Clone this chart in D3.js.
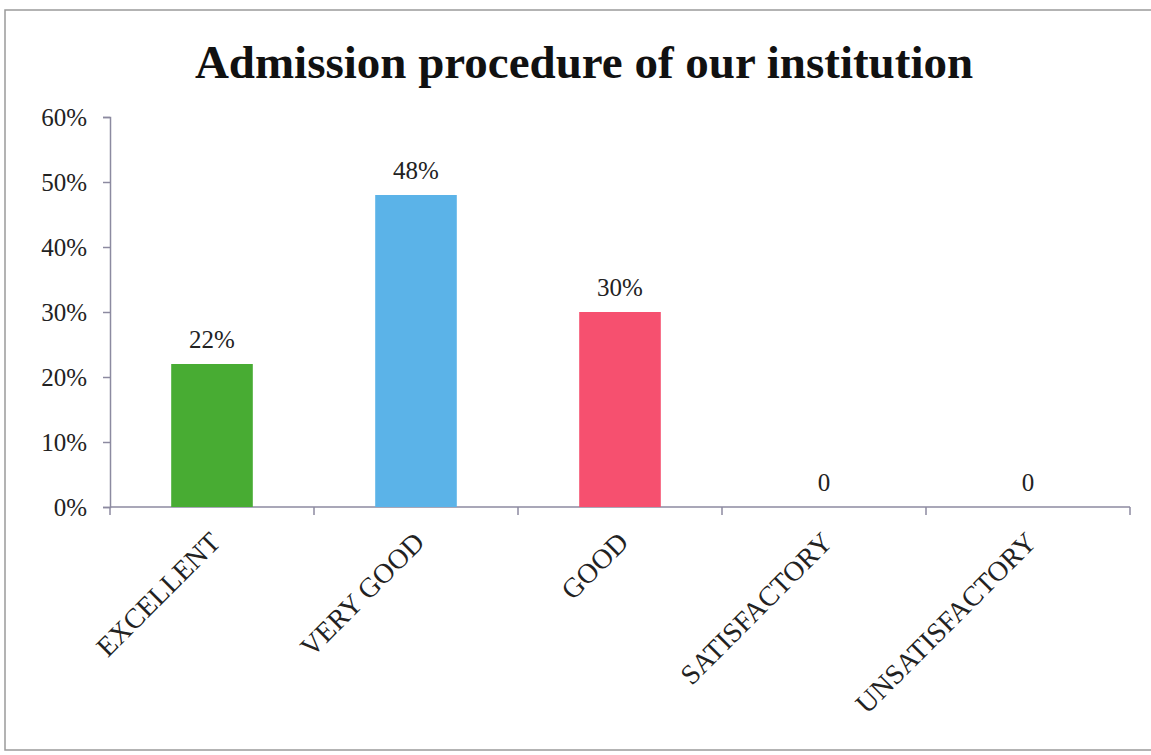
<!DOCTYPE html>
<meta charset="utf-8">
<style>
body {
	margin: 0;
	background-color: #ffffff;
}

.axis text {
	font: 25px "Liberation Serif", "Times New Roman", serif;
	fill: #222;
}

.axis line, .axis path {
	fill: none;
	stroke: #8c8aa0;
	stroke-width: 1.5;
}
</style>
<body>
<script src="https://d3js.org/d3.v7.min.js"></script>
<script>
var width = 1151;
var height = 755;

var categories = ['EXCELLENT', 'VERY GOOD', 'GOOD', 'SATISFACTORY', 'UNSATISFACTORY'];
var values = [0.22, 0.48, 0.30, 0, 0];
var valueLabels = ['22%', '48%', '30%', '0', '0'];
var barColors = ['#48ac33', '#5bb3e8', '#f6506f', '#999999', '#999999'];
var yTicks = [0, 0.1, 0.2, 0.3, 0.4, 0.5, 0.6];

var margin = {top: 117, right: 21, bottom: 248, left: 110};

var svg = d3.select('body')
	.append('svg')
	.attr('width', width)
	.attr('height', height);

// frame of the chart area
svg.append('rect')
	.attr('x', 5)
	.attr('y', 10)
	.attr('width', 1160)
	.attr('height', 740)
	.style('fill', 'none')
	.style('stroke', '#9a9a9a')
	.style('stroke-width', 1.5);

svg.append('text')
	.attr('x', 584)
	.attr('y', 78)
	.attr('text-anchor', 'middle')
	.style('font', 'bold 47px "Liberation Serif", "Times New Roman", serif')
	.style('fill', '#111')
	.text('Admission procedure of our institution');

var x = d3.scaleBand()
	.domain(categories)
	.range([margin.left, width - margin.right])
	.paddingInner(0.6)
	.paddingOuter(0.3);

var y = d3.scaleLinear()
	.domain([0, 0.6])
	.range([height - margin.bottom, margin.top]);

var g = svg.append('g');

// y axis
g.append('g')
	.attr('class', 'axis')
	.attr('transform', 'translate(' + margin.left + ',0)')
	.call(d3.axisLeft(y).tickValues(yTicks).tickFormat(d3.format('.0%')).tickSize(7).tickPadding(16));

// x axis: ticks at the band boundaries like a category axis
var xAxis = g.append('g')
	.attr('class', 'axis')
	.attr('transform', 'translate(0,' + y(0) + ')');

xAxis.append('line')
	.attr('x1', margin.left)
	.attr('x2', width - margin.right);

var step = x.step();
var bounds = d3.range(categories.length + 1).map(function(i) { return margin.left + i * step; });

xAxis.selectAll('.tick')
	.data(bounds)
	.enter()
	.append('line')
	.attr('x1', function(d) { return d; })
	.attr('x2', function(d) { return d; })
	.attr('y1', 0)
	.attr('y2', 8);

xAxis.selectAll('.cat')
	.data(categories)
	.enter()
	.append('text')
	.attr('class', 'cat')
	.attr('text-anchor', 'end')
	.attr('transform', function(d) {
		return 'translate(' + (x(d) + x.bandwidth() / 2 + 10) + ',37) rotate(-45)';
	})
	.style('font-size', '28px')
	.text(function(d) { return d; });

// bars
g.selectAll('.bar')
	.data(values)
	.enter()
	.append('rect')
	.attr('class', 'bar')
	.attr('x', function(d, i) { return x(categories[i]); })
	.attr('y', function(d) { return y(d); })
	.attr('width', x.bandwidth())
	.attr('height', function(d) { return y(0) - y(d); })
	.style('fill', function(d, i) { return barColors[i]; });

// value labels
g.selectAll('.val')
	.data(values)
	.enter()
	.append('text')
	.attr('class', 'val')
	.attr('x', function(d, i) { return x(categories[i]) + x.bandwidth() / 2; })
	.attr('y', function(d) { return y(d) - 16; })
	.attr('text-anchor', 'middle')
	.style('font', '25px "Liberation Serif", "Times New Roman", serif')
	.style('fill', '#222')
	.text(function(d, i) { return valueLabels[i]; });
</script>
</body>
